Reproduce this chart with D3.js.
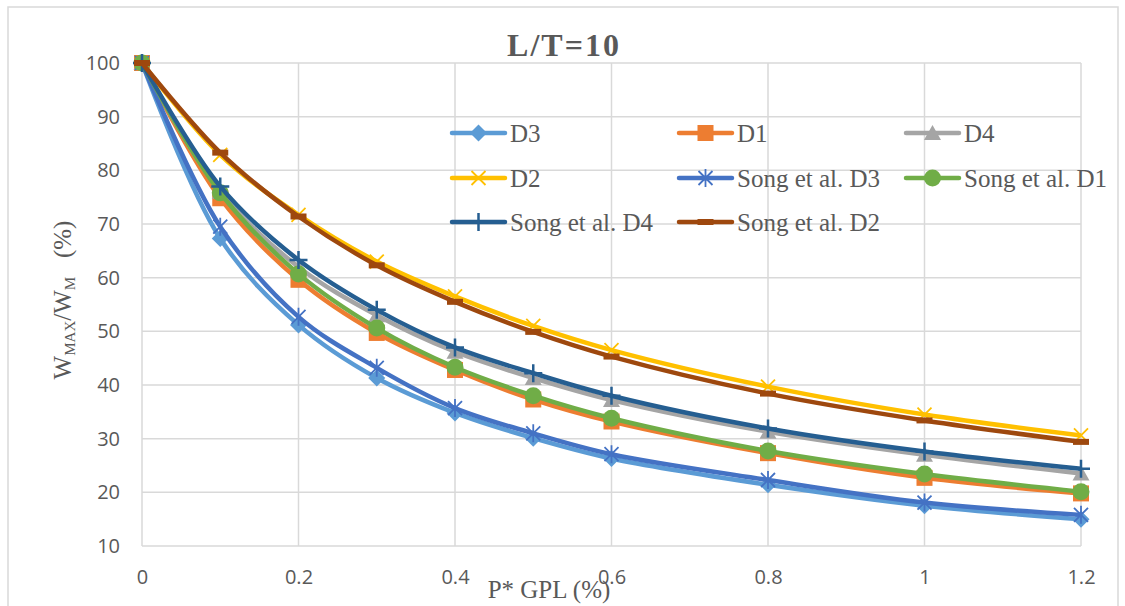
<!DOCTYPE html>
<html>
<head>
<meta charset="utf-8">
<script src="https://cdn.jsdelivr.net/npm/d3@7"></script>
<style>
  body { margin: 0; background: #fff; }
  svg { display: block; }
</style>
</head>
<body>
<div id="chart"></div>
<script>
// P* GPL (%) values on the x axis
const gpl = [0, 0.1, 0.2, 0.3, 0.4, 0.5, 0.6, 0.8, 1.0, 1.2];

// W_MAX/W_M (%) for each series
const d3Vals     = [100, 67.3, 51.2, 41.3, 34.8, 30.1, 26.3, 21.4, 17.5, 15.0];
const d1Vals     = [100, 74.8, 59.6, 49.7, 42.8, 37.3, 33.2, 27.3, 22.7, 19.8];
const d4Vals     = [100, 76.0, 62.0, 53.0, 46.2, 41.3, 37.2, 31.3, 27.0, 23.5];
const d2Vals     = [100, 82.9, 71.7, 63.0, 56.5, 51.0, 46.5, 39.7, 34.5, 30.6];
const songD3Vals = [100, 69.5, 52.7, 43.2, 35.7, 31.0, 27.1, 22.3, 18.1, 15.8];
const songD1Vals = [100, 75.8, 60.7, 50.6, 43.3, 38.0, 33.8, 27.7, 23.4, 20.1];
const songD4Vals = [100, 77.0, 63.3, 54.0, 47.0, 42.2, 38.0, 31.9, 27.6, 24.4];
const songD2Vals = [100, 83.3, 71.4, 62.3, 55.5, 49.9, 45.3, 38.4, 33.4, 29.4];

const seriesNames = ["D3", "D1", "D4", "D2", "Song et al. D3", "Song et al. D1", "Song et al. D4", "Song et al. D2"];
const seriesValues = [d3Vals, d1Vals, d4Vals, d2Vals, songD3Vals, songD1Vals, songD4Vals, songD2Vals];
const seriesColors = ["#5B9BD5", "#ED7D31", "#A5A5A5", "#FFC000", "#4472C4", "#70AD47", "#255E91", "#9E480E"];
const seriesMarkers = ["diamond", "square", "triangle", "x", "asterisk", "circle", "plus", "dash"];

const xTicks = [0, 0.2, 0.4, 0.6, 0.8, 1, 1.2];
const yTicks = [10, 20, 30, 40, 50, 60, 70, 80, 90, 100];

const W = 1125, H = 606;
const plot = { left: 142, right: 1081, top: 63, bottom: 546 };
const serif = "'Liberation Serif', 'Times New Roman', serif";
const sans = "'Open Sans', 'Noto Sans', sans-serif";
const textColor = "#595959";
const gridColor = "#d9d9d9";

const svg = d3.select("#chart").append("svg")
    .attr("width", W)
    .attr("height", H);

// chart border
svg.append("rect")
    .attr("x", 8).attr("y", 7)
    .attr("width", 1110).attr("height", 640)
    .attr("fill", "#fff")
    .attr("stroke", gridColor)
    .attr("stroke-width", 1.5);

const x = d3.scaleLinear().domain([0, 1.2]).range([plot.left, plot.right]);
const y = d3.scaleLinear().domain([10, 100]).range([plot.bottom, plot.top]);

// grid
const grid = svg.append("g");
grid.selectAll(".hgrid").data(yTicks).enter().append("line")
    .attr("x1", plot.left).attr("x2", plot.right)
    .attr("y1", d => y(d)).attr("y2", d => y(d))
    .attr("stroke", gridColor).attr("stroke-width", 1.5);
grid.selectAll(".vgrid").data(xTicks).enter().append("line")
    .attr("y1", plot.top).attr("y2", plot.bottom)
    .attr("x1", d => x(d)).attr("x2", d => x(d))
    .attr("stroke", gridColor).attr("stroke-width", 1.5);

// axes (tick labels only)
const yAxis = d3.axisLeft(y).tickValues(yTicks).tickSize(0).tickPadding(22);
svg.append("g")
    .attr("transform", `translate(${plot.left},0)`)
    .call(yAxis)
    .call(g => g.select(".domain").remove())
    .selectAll("text")
    .attr("font-family", sans).attr("font-size", 20).attr("fill", textColor);

const xAxis = d3.axisBottom(x).tickValues(xTicks).tickSize(0).tickPadding(24)
    .tickFormat(d => String(d));
svg.append("g")
    .attr("transform", `translate(0,${plot.bottom})`)
    .call(xAxis)
    .call(g => g.select(".domain").remove())
    .selectAll("text")
    .attr("font-family", sans).attr("font-size", 20).attr("fill", textColor);

// marker drawing
function drawMarker(g, type, color) {
    if (type === "diamond") {
        g.append("path").attr("d", "M0,-8.5L8.5,0L0,8.5L-8.5,0Z").attr("fill", color);
    } else if (type === "square") {
        g.append("rect").attr("x", -8).attr("y", -8).attr("width", 16).attr("height", 16).attr("fill", color);
    } else if (type === "triangle") {
        g.append("path").attr("d", "M0,-8L8.5,7L-8.5,7Z").attr("fill", color);
    } else if (type === "x") {
        g.append("path").attr("d", "M-7,-7L7,7M-7,7L7,-7")
            .attr("stroke", color).attr("stroke-width", 1.8).attr("fill", "none");
    } else if (type === "asterisk") {
        g.append("path").attr("d", "M-7,-7L7,7M-7,7L7,-7M0,-9L0,9")
            .attr("stroke", color).attr("stroke-width", 1.8).attr("fill", "none");
    } else if (type === "circle") {
        g.append("circle").attr("r", 8.5).attr("fill", color);
    } else if (type === "plus") {
        g.append("path").attr("d", "M-9,0L9,0M0,-9L0,9")
            .attr("stroke", color).attr("stroke-width", 2.5).attr("fill", "none");
    } else if (type === "dash") {
        g.append("rect").attr("x", -8).attr("y", -3).attr("width", 16).attr("height", 6).attr("fill", color);
    }
}

const line = d3.line()
    .x((d, i) => x(gpl[i]))
    .y(d => y(d))
    .curve(d3.curveCatmullRom.alpha(0.5));

// series: line then markers, in series order
seriesValues.forEach((vals, s) => {
    const sg = svg.append("g");
    sg.append("path")
        .datum(vals)
        .attr("fill", "none")
        .attr("stroke", seriesColors[s])
        .attr("stroke-width", 4.5)
        .attr("stroke-linejoin", "round")
        .attr("d", line);
    vals.forEach((v, i) => {
        const mg = sg.append("g").attr("transform", `translate(${x(gpl[i])},${y(v)})`);
        drawMarker(mg, seriesMarkers[s], seriesColors[s]);
    });
});

// title
svg.append("text")
    .attr("x", 564).attr("y", 56)
    .attr("text-anchor", "middle")
    .attr("font-family", serif).attr("font-size", 32).attr("font-weight", "bold")
    .attr("letter-spacing", 2)
    .attr("fill", textColor)
    .text("L/T=10");

// x axis title
svg.append("text")
    .attr("x", 549).attr("y", 598)
    .attr("text-anchor", "middle")
    .attr("font-family", serif).attr("font-size", 25)
    .attr("fill", textColor)
    .text("P* GPL (%)");

// y axis title
const yt = svg.append("text")
    .attr("transform", "translate(71,300) rotate(-90)")
    .attr("text-anchor", "middle")
    .attr("font-family", serif).attr("font-size", 25)
    .attr("fill", textColor);
yt.append("tspan").text("W");
yt.append("tspan").attr("font-size", 15).attr("dy", 4).text("MAX");
yt.append("tspan").attr("dy", -4).text("/W");
yt.append("tspan").attr("font-size", 15).attr("dy", 4).text("M");
yt.append("tspan").attr("dy", -4).text("\u00a0\u00a0\u00a0(%)");

// legend
const legendCols = [452, 679, 906];
const legendRows = [133, 178, 222];
const legend = svg.append("g");
seriesNames.forEach((name, s) => {
    const lx = legendCols[s % 3];
    const ly = legendRows[Math.floor(s / 3)];
    const lg = legend.append("g").attr("transform", `translate(${lx},${ly})`);
    lg.append("line")
        .attr("x1", 0).attr("x2", 53)
        .attr("stroke", seriesColors[s]).attr("stroke-width", 4.5)
        .attr("stroke-linecap", "round");
    const mg = lg.append("g").attr("transform", "translate(26.5,0)");
    drawMarker(mg, seriesMarkers[s], seriesColors[s]);
    lg.append("text")
        .attr("x", 58).attr("y", 9)
        .attr("font-family", serif).attr("font-size", 25)
        .attr("fill", textColor)
        .text(name);
});
</script>
</body>
</html>
